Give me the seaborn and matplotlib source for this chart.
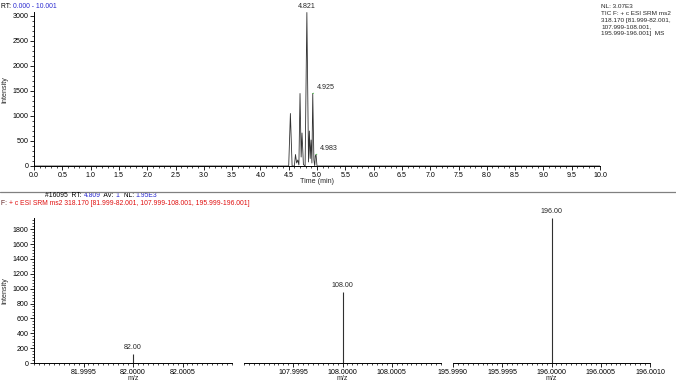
import matplotlib
matplotlib.use('Agg')
import numpy as np
import pandas as pd
import seaborn as sns
import matplotlib.pyplot as plt
from matplotlib.ticker import MultipleLocator, FixedLocator, FormatStrFormatter
from matplotlib.lines import Line2D

# --- chromatogram (TIC) ---
rt_min = [0.0, 4.50, 4.53, 4.56, 4.60, 4.62, 4.64, 4.66, 4.68, 4.70, 4.72, 4.735,
          4.76, 4.79, 4.821, 4.85, 4.865, 4.88, 4.895, 4.91, 4.925, 4.945, 4.96,
          4.97, 4.983, 5.00, 10.0]
tic = [0, 0, 1050, 0, 0, 230, 60, 120, 20, 1450, 180, 660,
       30, 0, 3070, 80, 700, 150, 520, 60, 1450, 120, 0,
       200, 230, 0, 0]
peak_rt = [4.821, 4.925, 4.983]
peak_tic = [3070, 1450, 230]

# --- SRM spectrum ---
mz = [82.00, 108.00, 196.00]
mz_int = [120, 960, 1950]
mz_windows = [(81.999, 82.001), (107.999, 108.001), (195.999, 196.001)]
mz_ticks = [[81.9995, 82.0000, 82.0005],
            [107.9995, 108.0000, 108.0005],
            [195.9990, 195.9995, 196.0000, 196.0005, 196.0010]]

FS = 5.1
FS_HEAD = 4.9
BLUE = '#2a2ad0'
RED = '#e01010'

sns.set_theme(style='ticks')
plt.rcParams['font.family'] = ['Liberation Sans', 'DejaVu Sans']
plt.rcParams['axes.linewidth'] = 0.7
plt.rcParams['xtick.major.width'] = 0.6
plt.rcParams['ytick.major.width'] = 0.6
plt.rcParams['xtick.minor.width'] = 0.5
plt.rcParams['ytick.minor.width'] = 0.5

W, H = 676, 385
fig = plt.figure(figsize=(W / 100, H / 100), dpi=100)


def box(l, t, r, b):
    # pixel box -> figure fraction
    return [l / W, 1 - b / H, (r - l) / W, (b - t) / H]


def style_ax(ax, left=True):
    for s in ['top', 'right']:
        ax.spines[s].set_visible(False)
    ax.spines['left'].set_visible(left)
    ax.spines['bottom'].set_color('black')
    ax.spines['left'].set_color('black')
    ax.tick_params(axis='both', which='major', labelsize=FS, length=3, pad=1.0, colors='black')
    ax.tick_params(axis='both', which='minor', length=1.6, colors='black')
    ax.set_facecolor('white')


def rich_text(x, y, parts, ax, fs=FS_HEAD):
    t = fig.text(x, y, parts[0][0], color=parts[0][1], fontsize=fs, va='bottom', ha='left')
    for s, c in parts[1:]:
        t = ax.annotate(s, xy=(1, 0), xycoords=t, va='bottom', ha='left',
                        color=c, fontsize=fs, annotation_clip=False)


# top panel
ax1 = fig.add_axes(box(34, 12.5, 600, 166))
chrom = pd.DataFrame({'rt': rt_min, 'tic': tic})
sns.lineplot(data=chrom, x='rt', y='tic', ax=ax1, color='#303030', linewidth=0.6,
             estimator=None, sort=False)
ax1.set_xlim(0, 10)
ax1.set_ylim(0, 3070)
ax1.xaxis.set_major_locator(MultipleLocator(0.5))
ax1.xaxis.set_minor_locator(MultipleLocator(0.1))
ax1.xaxis.set_major_formatter(FormatStrFormatter('%.1f'))
ax1.yaxis.set_major_locator(MultipleLocator(500))
ax1.yaxis.set_minor_locator(MultipleLocator(100))
style_ax(ax1)
ax1.set_ylabel('Intensity', fontsize=FS, labelpad=3)
ax1.set_xlabel('Time (min)', fontsize=FS)
ax1.xaxis.set_label_coords(5.0 / 10, -0.08)

ax1.annotate(f'{peak_rt[0]:.3f}', xy=(peak_rt[0], peak_tic[0]), xytext=(0, 2),
             textcoords='offset points', ha='center', va='bottom', fontsize=FS,
             annotation_clip=False)
for rt, val in zip(peak_rt[1:], peak_tic[1:]):
    ax1.annotate(f'{rt:.3f}', xy=(rt, val), xytext=(3, 1.5), textcoords='offset points',
                 ha='left', va='bottom', fontsize=FS, annotation_clip=False,
                 arrowprops=dict(arrowstyle='-', color='#40c040', lw=0.6,
                                 shrinkA=0, shrinkB=0, relpos=(0.1, 0)))

rich_text(1 / W, 1 - 10 / H, [('RT: ', 'black'), ('0.000 - 10.001', BLUE)], ax1)
fig.text(601 / W, 1 - 4 / H,
         'NL: 3.07E3\nTIC F: + c ESI SRM ms2\n318.170 [81.999-82.001,\n'
         '107.999-108.001,\n195.999-196.001]  MS',
         fontsize=4.6, va='top', ha='left', linespacing=1.45)

# separator
fig.add_artist(Line2D([0, 1], [1 - 192 / H, 1 - 192 / H], color='#808080', lw=0.9))

rich_text(45 / W, 1 - 199 / H,
          [('#16095  RT: ', 'black'), ('4.809', BLUE), ('  AV: ', 'black'), ('1', BLUE),
           ('  NL: ', 'black'), ('1.95E3', BLUE)], ax1)
rich_text(1 / W, 1 - 207 / H,
          [('F: ', '#602020'),
           ('+ c ESI SRM ms2 318.170 [81.999-82.001, 107.999-108.001, 195.999-196.001]', RED)],
          ax1)

# bottom panel: three m/z windows
seg_px = [(34, 232), (244, 441), (453, 650)]
for i, ((l, r), (lo, hi), ticks) in enumerate(zip(seg_px, mz_windows, mz_ticks)):
    ax = fig.add_axes(box(l, 218, r, 363))
    ax.vlines([mz[i]], 0, [mz_int[i]], color='#303030', linewidth=0.8)
    ax.set_xlim(lo, hi)
    ax.set_ylim(0, 1950)
    ax.xaxis.set_major_locator(FixedLocator(ticks))
    ax.xaxis.set_minor_locator(MultipleLocator(0.00005))
    ax.xaxis.set_major_formatter(FormatStrFormatter('%.4f'))
    style_ax(ax, left=(i == 0))
    if i == 0:
        ax.yaxis.set_major_locator(MultipleLocator(200))
        ax.yaxis.set_minor_locator(MultipleLocator(40))
        ax.set_ylabel('Intensity', fontsize=FS, labelpad=3)
    else:
        ax.set_yticks([])
        ax.tick_params(axis='y', which='both', left=False)
    ax.set_xlabel('m/z', fontsize=FS)
    ax.xaxis.set_label_coords((mz[i] - lo) / (hi - lo), -0.08)
    ax.annotate(f'{mz[i]:.2f}', xy=(mz[i], mz_int[i]), xytext=(0, 2),
                textcoords='offset points', ha='center', va='bottom', fontsize=FS,
                annotation_clip=False)

fig.savefig('out.png', dpi=100, facecolor='white')
